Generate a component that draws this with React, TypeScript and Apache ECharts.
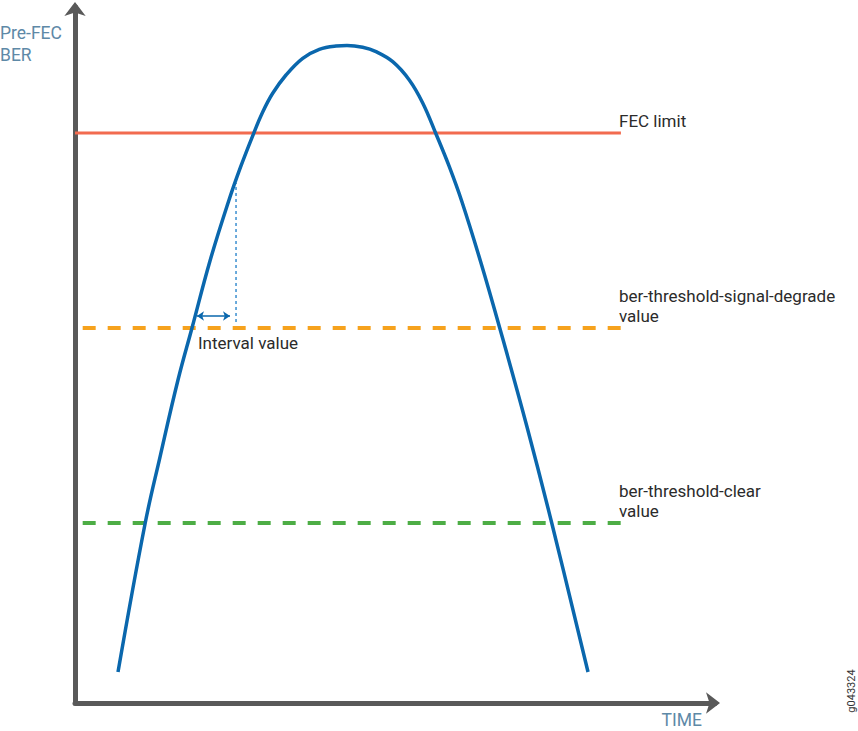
import React, { useEffect, useRef } from "react";
import * as echarts from "echarts";

// Pre-FEC BER curve over time (abstract units: time 0..100, BER 0..100)
const curveTime = [6.72, 10.94, 13.28, 16.09, 18.28, 21.09, 23.91, 25.86, 27.86, 29.33, 30.89, 32.97, 35.58, 38.17, 40.78, 42.5, 44.95, 47.03, 49.64, 52.23, 54.33, 56.41, 58.44, 60.47, 63.44, 66.41, 70.63, 74.53, 80.16];
const curveBer = [4.45, 25.72, 35.34, 46.41, 53.88, 63.51, 71.84, 76.98, 81.71, 84.91, 87.6, 90.23, 92.63, 93.92, 94.4, 94.47, 94.21, 93.58, 92.14, 89.51, 86.21, 81.75, 77.16, 71.98, 63.22, 53.74, 39.66, 25.72, 4.45];

// threshold levels
const fecLimit = 81.9;
const signalDegrade = 53.88;
const thresholdClear = 25.86;
const lineStart = [0, 1.2, 1.2];
const lineEnd = 85.3;

// interval marker
const dottedTime = 25.16;
const dottedRange = [54.74, 74.71];
const intervalRange = [19.06, 24.22];
const intervalLevel = 55.6;

const labels = {
  fec: "FEC limit",
  degrade: ["ber-threshold-signal-degrade", "value"],
  clear: ["ber-threshold-clear", "value"],
  interval: "Interval value",
  yTitle: ["Pre-FEC", "BER"],
  xTitle: "TIME",
  id: "g043324",
};

const FONT = "Roboto, sans-serif";

export default function App() {
  const ref = useRef<HTMLDivElement>(null);
  useEffect(() => {
    if (!ref.current) return;
    const chart = echarts.init(ref.current, null, { renderer: "svg" });
    const txt = (text: string, x: number, y: number, extra: any = {}) => ({
      type: "text",
      x,
      y,
      style: {
        text,
        fill: "#2b2b2b",
        font: `17px ${FONT}`,
        lineHeight: 20,
        textVerticalAlign: "middle",
        textAlign: "left",
        ...extra,
      },
    });
    const axisCommon = {
      type: "value",
      min: 0,
      max: 100,
      axisLine: {
        show: true,
        symbol: ["none", "arrow"],
        symbolSize: [16, 14],
        symbolOffset: [0, 5],
        lineStyle: { color: "#595959", width: 5 },
      },
      axisTick: { show: false },
      axisLabel: { show: false },
      splitLine: { show: false },
    };
    chart.setOption({
      animation: false,
      backgroundColor: "#ffffff",
      grid: { left: 75, right: 143, top: 7, bottom: 28 },
      xAxis: axisCommon,
      yAxis: axisCommon,
      series: [
        {
          type: "line",
          data: [[lineStart[0], fecLimit], [lineEnd, fecLimit]],
          showSymbol: false,
          lineStyle: { color: "#f26b4f", width: 3 },
          z: 2,
        },
        {
          type: "line",
          data: [[lineStart[1], signalDegrade], [lineEnd, signalDegrade]],
          showSymbol: false,
          lineStyle: { color: "#f6a21d", width: 4, type: [13, 12], cap: "butt" },
          z: 2,
        },
        {
          type: "line",
          data: [[lineStart[2], thresholdClear], [lineEnd, thresholdClear]],
          showSymbol: false,
          lineStyle: { color: "#4dad45", width: 4, type: [13, 12], cap: "butt" },
          z: 2,
        },
        {
          type: "line",
          data: [[dottedTime, dottedRange[0]], [dottedTime, dottedRange[1]]],
          showSymbol: false,
          lineStyle: { color: "#3b8fd0", width: 1.5, type: [3, 3] },
          z: 2,
        },
        {
          type: "line",
          data: curveTime.map((t, i) => [t, curveBer[i]]),
          showSymbol: false,
          smooth: 0.4,
          lineStyle: { color: "#0a67ad", width: 3.5 },
          z: 3,
          markLine: {
            silent: true,
            symbol: ["arrow", "arrow"],
            symbolSize: [7, 7],
            label: { show: false },
            lineStyle: { color: "#0a67ad", width: 1.5, type: "solid" },
            data: [[{ coord: [intervalRange[0], intervalLevel] }, { coord: [intervalRange[1], intervalLevel] }]],
          },
        },
      ],
      graphic: [
        txt(labels.fec, 619, 121),
        txt(labels.degrade.join("\n"), 619, 306),
        txt(labels.clear.join("\n"), 619, 501),
        txt(labels.interval, 198, 343),
        txt(labels.yTitle.join("\n"), 0, 44, { fill: "#5e89a7", font: `17.5px ${FONT}`, lineHeight: 21.5 }),
        txt(labels.xTitle, 702, 720, { fill: "#5e89a7", font: `17.5px ${FONT}`, textAlign: "right", lineHeight: 18 }),
        {
          type: "text",
          x: 851,
          y: 691,
          rotation: Math.PI / 2,
          style: {
            text: labels.id,
            fill: "#333",
            font: `11px ${FONT}`,
            textAlign: "center",
            textVerticalAlign: "middle",
          },
        },
      ],
    });
    return () => chart.dispose();
  }, []);
  return <div ref={ref} style={{ width: 858, height: 731, position: "absolute", left: 0, top: 0 }} />;
}
